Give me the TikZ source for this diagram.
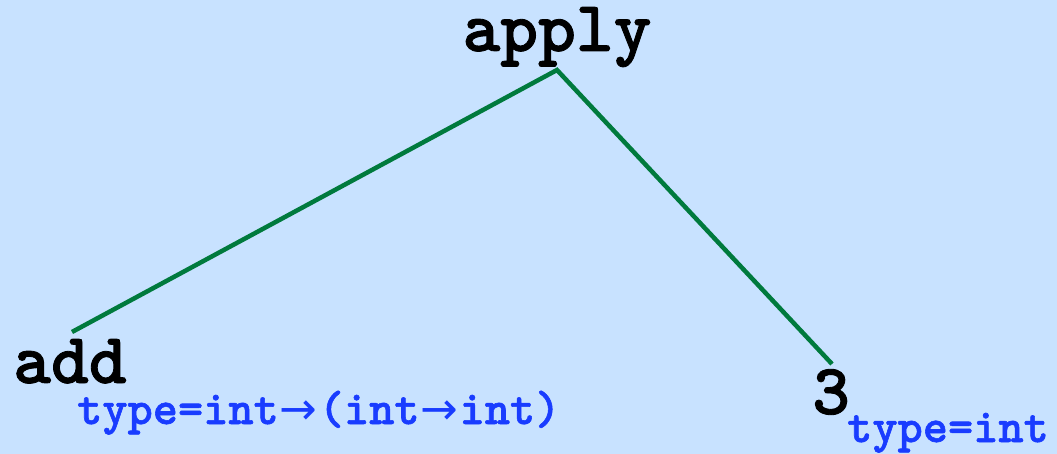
\documentclass[tikz,border=0pt]{standalone}
\usepackage{fontspec}
\newfontfamily\codefont{lmmonolt10-bold.otf}[FakeBold=1.2]
\newfontfamily\arrowfont{DejaVu Sans}
\definecolor{bgblue}{RGB}{200,226,255}
\definecolor{edgegreen}{RGB}{0,122,61}
\definecolor{typeblue}{RGB}{25,60,255}
\newcommand{\tyarrow}{\makebox[40pt]{\arrowfont\fontsize{45}{45}\selectfont →}}
\begin{document}
\begin{tikzpicture}[x=1pt,y=-1pt,
  term/.style={inner sep=0pt,font=\fontsize{72}{72}\selectfont\codefont,text=black},
  typelab/.style={inner sep=0pt,font=\fontsize{48}{48}\selectfont\codefont,text=typeblue},
  edge/.style={draw=edgegreen,line width=4.5pt}]
\fill[bgblue] (0,0) rectangle (1057,454);
\useasboundingbox (0,0) rectangle (1057,454);
\node[term,anchor=base] (apply) at (557,51) {apply};
\node[term,anchor=base west] (add) at (13,383) {add};
\node[term,anchor=base west] (three) at (812,414) {3};
\node[typelab,anchor=base west] (addtype) at (77,424) {type=int\tyarrow(int\tyarrow int)};
\node[typelab,anchor=base west] (threetype) at (847,442) {type=int};
\coordinate (apex) at (557,70);
\coordinate (addend) at (72,332);
\coordinate (threeend) at (832,364);
\draw[edge] (addend) -- (apex) -- (threeend);
\end{tikzpicture}
\end{document}
